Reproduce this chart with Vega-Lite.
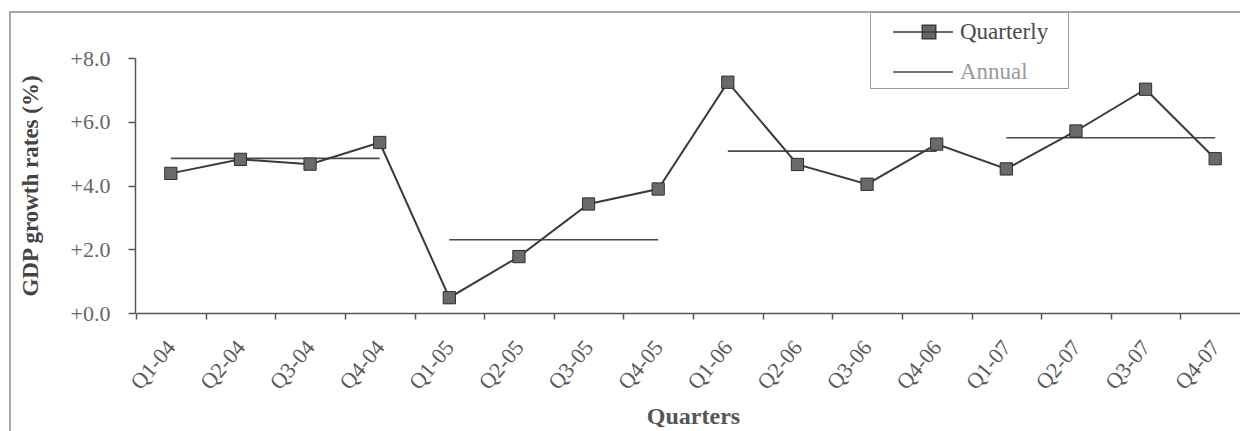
{
  "$schema": "https://vega.github.io/schema/vega-lite/v6.json",
  "autosize": {"type": "none"},
  "width": 1236,
  "height": 425,
  "padding": {"left": 10, "top": 12, "right": -6, "bottom": -6},
  "background": "#ffffff",
  "config": {
    "view": {"stroke": "#8a8a8a", "strokeWidth": 1.5},
    "font": "Liberation Serif"
  },
  "datasets": {
    "quarterly": [
      {"quarter": "Q1-04", "growth": 4.38, "series": "Quarterly"},
      {"quarter": "Q2-04", "growth": 4.82, "series": "Quarterly"},
      {"quarter": "Q3-04", "growth": 4.67, "series": "Quarterly"},
      {"quarter": "Q4-04", "growth": 5.35, "series": "Quarterly"},
      {"quarter": "Q1-05", "growth": 0.48, "series": "Quarterly"},
      {"quarter": "Q2-05", "growth": 1.77, "series": "Quarterly"},
      {"quarter": "Q3-05", "growth": 3.42, "series": "Quarterly"},
      {"quarter": "Q4-05", "growth": 3.89, "series": "Quarterly"},
      {"quarter": "Q1-06", "growth": 7.24, "series": "Quarterly"},
      {"quarter": "Q2-06", "growth": 4.66, "series": "Quarterly"},
      {"quarter": "Q3-06", "growth": 4.04, "series": "Quarterly"},
      {"quarter": "Q4-06", "growth": 5.30, "series": "Quarterly"},
      {"quarter": "Q1-07", "growth": 4.52, "series": "Quarterly"},
      {"quarter": "Q2-07", "growth": 5.71, "series": "Quarterly"},
      {"quarter": "Q3-07", "growth": 7.02, "series": "Quarterly"},
      {"quarter": "Q4-07", "growth": 4.84, "series": "Quarterly"}
    ],
    "annual": [
      {"year": "2004", "start": "Q1-04", "end": "Q4-04", "growth": 4.85, "series": "Annual"},
      {"year": "2005", "start": "Q1-05", "end": "Q4-05", "growth": 2.30, "series": "Annual"},
      {"year": "2006", "start": "Q1-06", "end": "Q4-06", "growth": 5.08, "series": "Annual"},
      {"year": "2007", "start": "Q1-07", "end": "Q4-07", "growth": 5.50, "series": "Annual"}
    ]
  },
  "encoding": {
    "x": {
      "field": "quarter",
      "type": "ordinal",
      "sort": null,
      "scale": {
        "type": "band",
        "domain": ["Q1-04", "Q2-04", "Q3-04", "Q4-04", "Q1-05", "Q2-05", "Q3-05", "Q4-05", "Q1-06", "Q2-06", "Q3-06", "Q4-06", "Q1-07", "Q2-07", "Q3-07", "Q4-07"],
        "range": [126, 1240],
        "paddingInner": 0,
        "paddingOuter": 0
      },
      "axis": {
        "orient": "bottom",
        "offset": -124,
        "title": "Quarters",
        "titleFont": "Liberation Serif",
        "titleFontSize": 24,
        "titleFontWeight": "bold",
        "titleColor": "#555555",
        "titlePadding": 11,
        "labelFont": "Liberation Serif",
        "labelFontSize": 22,
        "labelColor": "#5a5a5a",
        "labelAngle": -50,
        "labelAlign": "right",
        "labelBaseline": "middle",
        "labelPadding": 24,
        "tickBand": "extent",
        "tickSize": 6,
        "tickColor": "#555555",
        "tickWidth": 1.5,
        "domainColor": "#555555",
        "domainWidth": 1.5,
        "grid": false
      }
    },
    "y": {
      "field": "growth",
      "type": "quantitative",
      "scale": {"domain": [0, 8], "range": [301, 46], "nice": false, "zero": false},
      "axis": {
        "orient": "left",
        "offset": -125,
        "values": [0, 2, 4, 6, 8],
        "format": "+.1f",
        "title": "GDP growth rates (%)",
        "titleFont": "Liberation Serif",
        "titleFontSize": 23,
        "titleFontWeight": "bold",
        "titleColor": "#444444",
        "titlePadding": 28,
        "labelFont": "Liberation Serif",
        "labelFontSize": 22,
        "labelColor": "#666666",
        "labelPadding": 18,
        "tickSize": 7,
        "tickColor": "#555555",
        "tickWidth": 1.5,
        "domainColor": "#555555",
        "domainWidth": 1.5,
        "grid": false
      }
    }
  },
  "layer": [
    {
      "data": {"name": "annual"},
      "mark": {"type": "rule", "strokeWidth": 1.6},
      "encoding": {
        "x": {"field": "start", "type": "ordinal", "sort": null},
        "x2": {"field": "end"},
        "y": {"field": "growth", "type": "quantitative"},
        "color": {
          "field": "series",
          "type": "nominal",
          "scale": {"domain": ["Quarterly", "Annual"], "range": ["#3a3a3a", "#4a4a4a"]},
          "legend": {
            "title": "__",
            "titleOrient": "right",
            "titleColor": "#ffffff",
            "titleFontSize": 14,
            "titlePadding": 2,
            "orient": "none",
            "legendX": 860,
            "legendY": 0,
            "padding": 4,
            "strokeColor": "#9a9a9a",
            "labelFont": "Liberation Serif",
            "labelFontSize": 23,
            "labelOffset": 54,
            "rowPadding": 12,
            "symbolSize": 900,
            "encode": {
              "symbols": {
                "update": {
                  "shape": {"signal": "datum.value === 'Quarterly' ? 'M0.2,0H4.2M2.15,-0.45H3.05V0.45H2.15Z' : 'M0.2,0H4.2'"},
                  "fill": {"signal": "datum.value === 'Quarterly' ? '#666666' : 'transparent'"},
                  "stroke": {"signal": "datum.value === 'Quarterly' ? '#333333' : '#9a9a9a'"},
                  "strokeWidth": {"value": 1.5},
                  "opacity": {"value": 1}
                }
              },
              "labels": {
                "update": {
                  "fill": {"signal": "datum.value === 'Quarterly' ? '#4a4a4a' : '#9a9a9a'"}
                }
              }
            }
          }
        }
      }
    },
    {
      "data": {"name": "quarterly"},
      "mark": {"type": "line", "strokeWidth": 2},
      "encoding": {
        "color": {"field": "series", "type": "nominal"}
      }
    },
    {
      "data": {"name": "quarterly"},
      "mark": {"type": "point", "shape": "square", "size": 150, "filled": true, "fill": "#6a6a6a", "stroke": "#2e2e2e", "strokeWidth": 1, "opacity": 1}
    }
  ]
}
